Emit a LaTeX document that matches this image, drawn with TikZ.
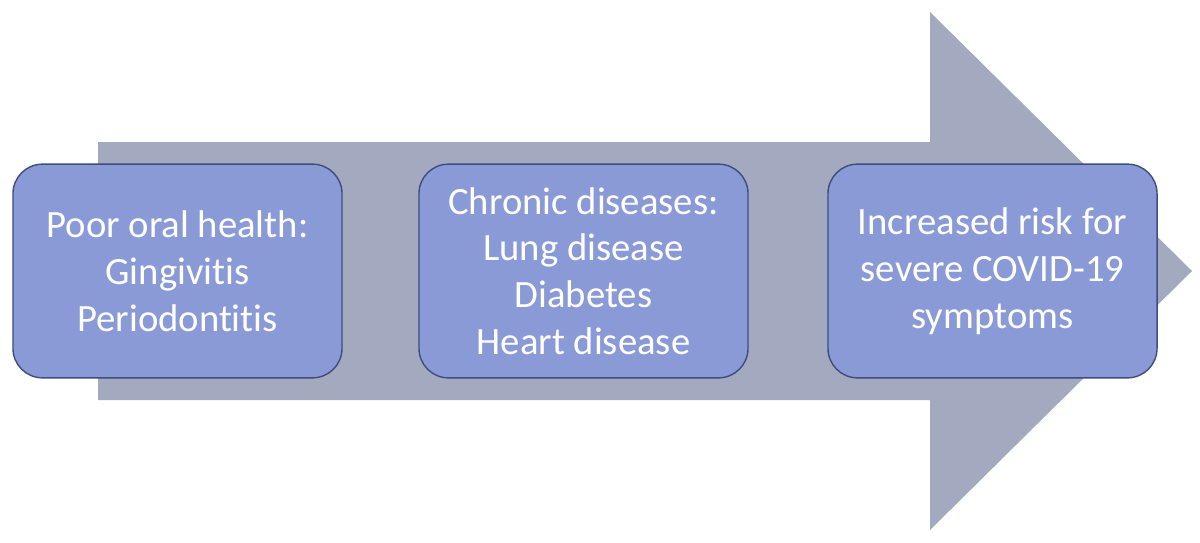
\documentclass[tikz,border=0pt]{standalone}
\usepackage{fontspec}
\setmainfont{Carlito}[Ligatures=NoCommon]
\usepackage{tikz}
\definecolor{arrowgrey}{RGB}{163,169,191}
\definecolor{boxblue}{RGB}{138,154,214}
\definecolor{boxline}{RGB}{62,76,128}

\begin{document}
\begin{tikzpicture}[x=0.025cm, y=0.025cm]
      %box look
      \tikzset{
      stagebox/.style={
        draw=boxline, line width=1pt, fill=boxblue, rounded corners=21pt,
        minimum width=234pt, minimum height=152pt, inner sep=0pt,
        align=center, text=white,
        font=\fontsize{27.5}{33.3}\selectfont
      },
      }
      \useasboundingbox (0,0) rectangle (1200,542);

      %big arrow
      \coordinate (bodyTL) at (98,400);
      \coordinate (bodyBL) at (98,142);
      \coordinate (headBT) at (930,400);
      \coordinate (headBB) at (930,142);
      \coordinate (headT) at (930,530);
      \coordinate (headB) at (930,12);
      \coordinate (tip) at (1192,271);
      \fill[arrowgrey] (bodyBL) -- (bodyTL) -- (headBT) -- (headT) -- (tip)
        -- (headB) -- (headBB) -- cycle;

      %stages
      \node[stagebox] (oral) at (177.5,271) {Poor oral health:\\Gingivitis\\Periodontitis};
      \node[stagebox] (chronic) at (583.5,271) {Chronic diseases:\\Lung disease\\Diabetes\\Heart disease};
      \node[stagebox] (covid) at (992.5,271) {Increased risk for\\severe COVID-19\\symptoms};
\end{tikzpicture}
\end{document}
